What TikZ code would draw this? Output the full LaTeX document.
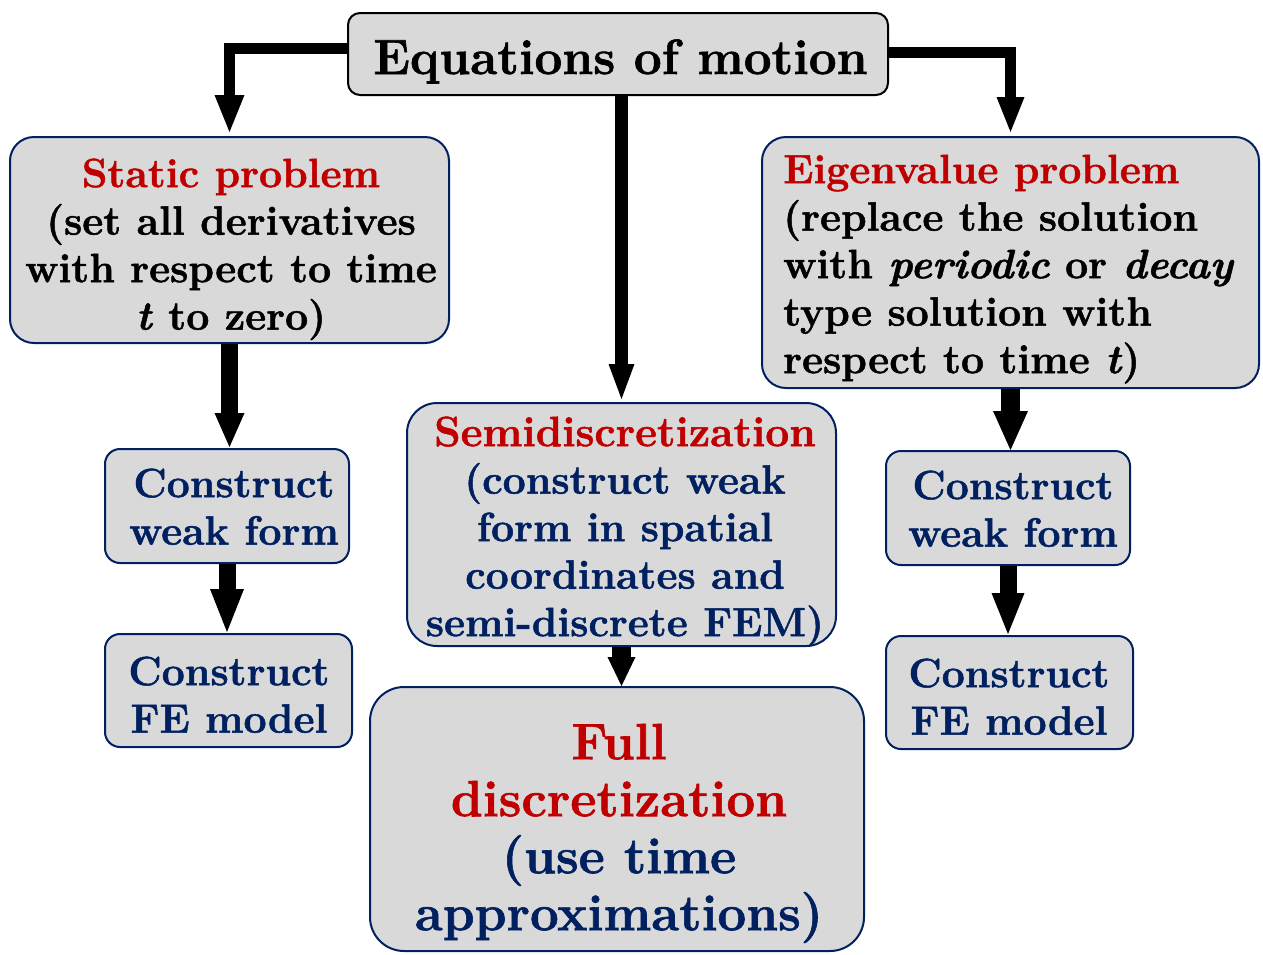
\documentclass[tikz,border=0pt]{standalone}
\usepackage{fontspec}
\setmainfont{Latin Modern Roman}[BoldFeatures={FakeBold=1.2}, BoldItalicFeatures={FakeBold=1.2}]
\usetikzlibrary{arrows.meta}
\definecolor{titlered}{HTML}{C00000}
\definecolor{navy}{HTML}{002060}
\definecolor{panelgray}{HTML}{D9D9D9}
\tikzset{
  panel/.style={draw=navy, line width=2pt, fill=panelgray, inner sep=0pt},
  txt/.style={font=\fontsize{41}{47.5}\selectfont\bfseries, align=center, inner sep=0pt, anchor=north},
  flow/.style n args={3}{line width=#1, line join=miter,
    -{Triangle[width=#2, length=#3, line width=0pt]}},
}
\begin{document}
\begin{tikzpicture}[x=1pt, y=-1pt]
\path[fill=white, use as bounding box] (0,0) rectangle (1263,954);

% boxes
\node[panel, draw=black, rounded corners=12pt, minimum width=540pt, minimum height=82pt] (top) at (618,54) {};
\node[panel, rounded corners=24pt, minimum width=439pt, minimum height=206pt] (static) at (229.5,240) {};
\node[panel, rounded corners=24pt, minimum width=497pt, minimum height=251pt] (eigen) at (1010.5,262.5) {};
\node[panel, rounded corners=30pt, minimum width=429pt, minimum height=243pt] (semi) at (621.5,524.5) {};
\node[panel, rounded corners=34pt, minimum width=494pt, minimum height=264pt] (full) at (617,819) {};
\node[panel, rounded corners=15pt, minimum width=244pt, minimum height=114pt] (lcwf) at (227,506) {};
\node[panel, rounded corners=15pt, minimum width=247pt, minimum height=113pt] (lcfe) at (228.5,690.5) {};
\node[panel, rounded corners=15pt, minimum width=244pt, minimum height=114pt] (rcwf) at (1008,508) {};
\node[panel, rounded corners=15pt, minimum width=247pt, minimum height=113pt] (rcfe) at (1009.5,692.5) {};

% texts
\node[font=\fontsize{49.5}{56}\selectfont\bfseries, inner sep=0pt, anchor=base] (top-text) at (620.5,74) {Equations of motion};
\node[txt] (static-text) at (231,153.75)
  {\strut\textcolor{titlered}{Static problem}\\(set all derivatives\\with respect to time\\\textit{t} to zero)};
\node[txt, align=left, anchor=north west] (eigen-text) at (783,149.75)
  {\strut\textcolor{titlered}{Eigenvalue problem}\\(replace the solution\\with \textit{periodic} or \textit{decay}\\type solution with\\respect to time \textit{t})};
\node[txt, text=navy] (semi-text) at (625,412.75)
  {\strut\textcolor{titlered}{\fontsize{42.5}{47.5}\selectfont Semidiscretization}\\(construct weak\\form in spatial\\coordinates and\\semi-discrete FEM)};
\node[txt, text=navy, font=\fontsize{51}{57}\selectfont\bfseries] (full-text) at (619,719.1)
  {\strut\textcolor{titlered}{Full}\\\textcolor{titlered}{discretization}\\(use time\\approximations)};
\node[txt, text=navy] (lcwf-text) at (234,463.75) {\strut Construct\\weak form};
\node[txt, text=navy] (lcfe-text) at (229,651.75) {\strut Construct\\FE model};
\node[txt, text=navy] (rcwf-text) at (1013,465.75) {\strut Construct\\weak form};
\node[txt, text=navy] (rcfe-text) at (1009,653.75) {\strut Construct\\FE model};

% connectors
\draw[flow={11pt}{30pt}{37pt}, shorten >=4pt] ([yshift=6pt]top.west) -| (static.north);
\draw[flow={11pt}{28pt}{35pt}, shorten >=4pt] ([yshift=2pt]top.east) -| (eigen.north);
\draw[flow={13.5pt}{26pt}{35pt}, shorten >=3pt] (semi.north |- top.south) -- (semi.north);
\draw[flow={16.5pt}{30pt}{34pt}, shorten >=1pt] (static.south) -- (static.south |- lcwf.north);
\draw[flow={17pt}{34pt}{43pt}, shorten >=1pt] (lcwf.south) -- (lcwf.south |- lcfe.north);
\draw[flow={18.5pt}{35pt}{39pt}] (eigen.south) -- (eigen.south |- rcwf.north);
\draw[flow={17pt}{33pt}{41pt}, shorten >=1pt] (rcwf.south) -- (rcwf.south |- rcfe.north);
\draw[flow={19pt}{28pt}{29pt}] (semi.south) -- (semi.south |- full.north);
\end{tikzpicture}
\end{document}
